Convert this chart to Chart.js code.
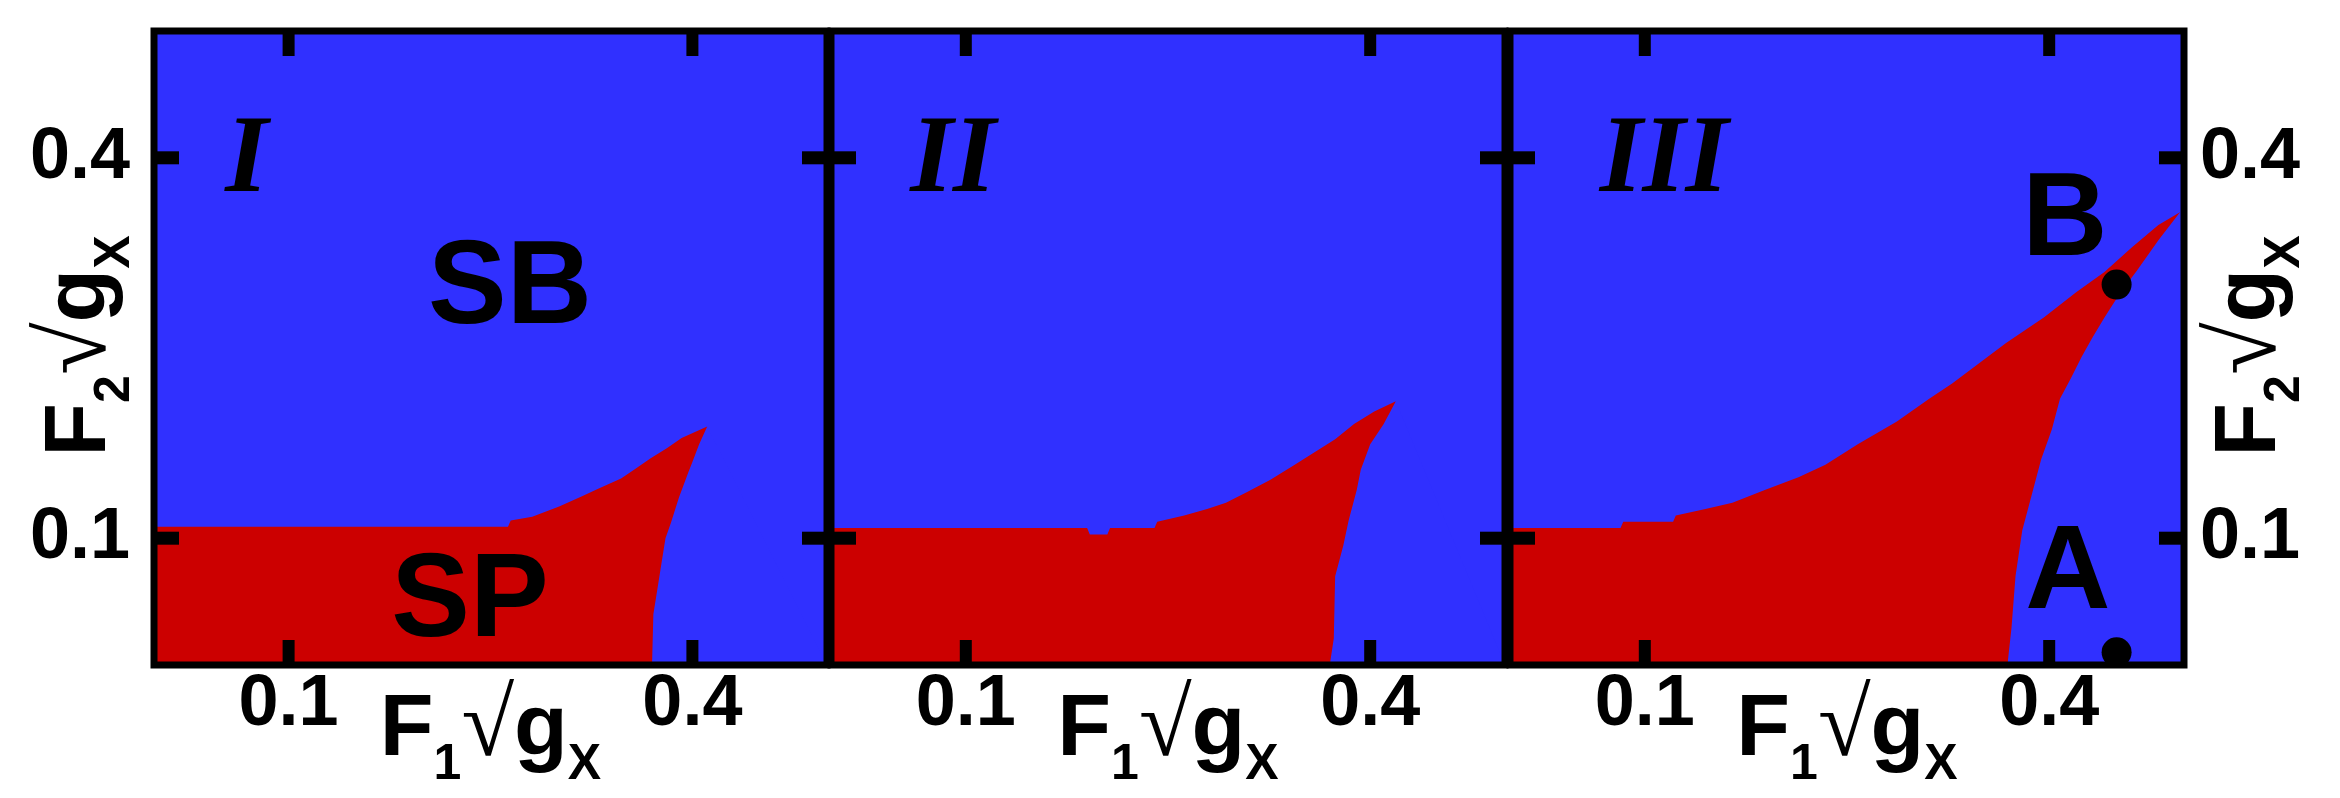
<!DOCTYPE html>
<html lang="en">
<head>
<meta charset="UTF-8">
<title>SB / SP phase diagram</title>
<script src="https://cdn.jsdelivr.net/npm/chart.js"></script>
<style>
  body { margin: 0; background: #fff; }
  #wrap { position: relative; width: 2340px; height: 798px; overflow: hidden; }
  canvas { position: absolute; top: 0; }
</style>
</head>
<body>
<div id="wrap">
  <canvas id="p1" width="840" height="798" style="left:0px"></canvas>
  <canvas id="p2" width="700" height="798" style="left:820px"></canvas>
  <canvas id="p3" width="845" height="798" style="left:1495px"></canvas>
</div>
<script>
// tick values shared by all three panels
const xTicks = [0.1, 0.4];
const yTicks = [0.1, 0.4];

// panel I : upper edge of the SP (red) region, F2 against F1
const topX1 = [0, 0.263, 0.265, 0.281, 0.301, 0.318, 0.330, 0.347, 0.358, 0.369, 0.381, 0.392, 0.411];
const topY1 = [0.109, 0.109, 0.114, 0.117, 0.125, 0.133, 0.139, 0.147, 0.155, 0.163, 0.171, 0.179, 0.188];
// panel I : right-hand edge, SB again below/right of it (ends in the plot's corner)
const sideX1 = [0.370, 0.371, 0.374, 0.377, 0.380, 0.384, 0.390, 0.397, 0.400, 0.405, 0.411, 0.5];
const sideY1 = [0, 0.040, 0.060, 0.080, 0.100, 0.112, 0.132, 0.152, 0.160, 0.174, 0.188, 0];

// panel II
const topX2 = [0, 0.190, 0.192, 0.205, 0.207, 0.240, 0.242, 0.262, 0.279, 0.293, 0.308, 0.326, 0.344, 0.359, 0.374, 0.388, 0.403, 0.419];
const topY2 = [0.108, 0.108, 0.103, 0.103, 0.108, 0.108, 0.113, 0.118, 0.123, 0.128, 0.136, 0.146, 0.158, 0.168, 0.178, 0.190, 0.200, 0.208];
const sideX2 = [0.370, 0.373, 0.374, 0.380, 0.384, 0.390, 0.393, 0.400, 0.410, 0.419, 0.5];
const sideY2 = [0, 0.021, 0.070, 0.094, 0.114, 0.138, 0.154, 0.174, 0.190, 0.208, 0];

// panel III
const topX3 = [0, 0.082, 0.084, 0.121, 0.123, 0.145, 0.165, 0.189, 0.214, 0.234, 0.258, 0.287, 0.311, 0.328, 0.348, 0.368, 0.396, 0.420, 0.441, 0.461, 0.481, 0.497];
const topY3 = [0.108, 0.108, 0.113, 0.113, 0.118, 0.123, 0.128, 0.138, 0.148, 0.158, 0.174, 0.192, 0.210, 0.222, 0.238, 0.254, 0.274, 0.294, 0.310, 0.329, 0.347, 0.357];
const sideX3 = [0.369, 0.372, 0.375, 0.380, 0.388, 0.394, 0.402, 0.408, 0.416, 0.424, 0.432, 0.441, 0.453, 0.465, 0.481, 0.497, 0.5];
const sideY3 = [0, 0.029, 0.070, 0.106, 0.138, 0.162, 0.186, 0.210, 0.226, 0.243, 0.258, 0.274, 0.294, 0.311, 0.335, 0.357, 0];

// marked points A and B in panel III
const dotX = [0.45, 0.45];
const dotY = [0.01, 0.30];

const BLUE = '#3030ff';
const RED = '#cc0000';
const SANS = '"Liberation Sans", Arial, sans-serif';
const SERIF = '"Liberation Serif", "Times New Roman", serif';
const tickFont = { family: SANS, weight: 'bold', size: 72, lineHeight: 1 };

function pts(xs, ys) {
  return xs.map((x, i) => ({ x: x, y: ys[i] }));
}

// F_n sqrt(g_X), drawn centred on the current origin
function mathLabel(ctx, n) {
  const parts = [
    ['F', 'bold 88px ' + SANS, 0],
    [n, 'bold 50px ' + SANS, 24],
    ['\u221A', '96px ' + SERIF, 0],
    ['g', 'bold 88px ' + SANS, 0],
    ['X', 'bold 50px ' + SANS, 24]
  ];
  let w = 0;
  parts.forEach(p => { ctx.font = p[1]; p[3] = ctx.measureText(p[0]).width; w += p[3]; });
  let x = -w / 2;
  ctx.textAlign = 'left';
  ctx.textBaseline = 'alphabetic';
  parts.forEach(p => { ctx.font = p[1]; ctx.fillText(p[0], x, p[2]); x += p[3]; });
}

function decor(cfg) {
  return {
    id: 'decor',
    beforeDatasetsDraw(chart) {
      const { ctx, chartArea: a } = chart;
      ctx.save();
      ctx.fillStyle = BLUE;
      ctx.fillRect(a.left, a.top, a.right - a.left, a.bottom - a.top);
      ctx.restore();
    },
    afterDatasetsDraw(chart) {
      const { ctx, chartArea: a, scales: { x, y } } = chart;
      ctx.save();
      ctx.fillStyle = '#000';
      // region names
      cfg.notes.forEach(n => {
        ctx.font = n.font;
        ctx.textAlign = n.align;
        ctx.textBaseline = 'alphabetic';
        ctx.fillText(n.t, x.getPixelForValue(n.x), y.getPixelForValue(n.y));
      });
      // inward ticks on all four sides
      xTicks.forEach(v => {
        const px = x.getPixelForValue(v);
        ctx.fillRect(px - 6, a.bottom - 25, 12, 25);
        ctx.fillRect(px - 6, a.top, 12, 25);
      });
      yTicks.forEach(v => {
        const py = y.getPixelForValue(v);
        ctx.fillRect(a.left, py - 6.5, 25, 13);
        ctx.fillRect(a.right - 25, py - 6.5, 25, 13);
      });
      ctx.lineWidth = 7;
      ctx.strokeStyle = '#000';
      ctx.strokeRect(a.left, a.top, a.right - a.left, a.bottom - a.top);
      ctx.restore();
    },
    afterDraw(chart) {
      const ctx = chart.ctx;
      ctx.save();
      ctx.fillStyle = '#000';
      ctx.translate((chart.chartArea.left + chart.chartArea.right) / 2, 755);
      mathLabel(ctx, '1');
      ctx.restore();
      if (cfg.yTitleX != null) {
        ctx.save();
        ctx.fillStyle = '#000';
        ctx.translate(cfg.yTitleX, 346);
        ctx.rotate(-Math.PI / 2);
        mathLabel(ctx, '2');
        ctx.restore();
      }
    }
  };
}

function panel(id, cfg) {
  const datasets = [
    {
      data: pts(cfg.sideX, cfg.sideY), fill: 'origin', backgroundColor: BLUE,
      borderColor: 'rgba(0,0,0,0)', borderWidth: 0, pointRadius: 0, tension: 0, order: 1
    },
    {
      data: pts(cfg.topX, cfg.topY), fill: 'origin', backgroundColor: RED,
      borderColor: 'rgba(0,0,0,0)', borderWidth: 0, pointRadius: 0, tension: 0, order: 2
    }
  ];
  if (cfg.dots) {
    datasets.unshift({
      data: pts(dotX, dotY), showLine: false, pointRadius: 15, pointBorderWidth: 0,
      pointBackgroundColor: '#000', clip: false, order: 0
    });
  }
  new Chart(document.getElementById(id), {
    type: 'line',
    data: { datasets: datasets },
    options: {
      responsive: false,
      animation: false,
      events: [],
      layout: { padding: cfg.pad },
      plugins: { legend: { display: false }, tooltip: { enabled: false } },
      scales: {
        x: {
          type: 'linear', min: 0, max: 0.5, position: 'bottom',
          grid: { display: false, drawTicks: false }, border: { display: false },
          afterBuildTicks: s => { s.ticks = xTicks.map(v => ({ value: v })); },
          afterFit: s => { s.height = 133; s.paddingLeft = 0; s.paddingRight = 0; },
          ticks: { font: tickFont, color: '#000', padding: 4, maxRotation: 0, autoSkip: false, callback: v => v.toFixed(1) }
        },
        y: {
          type: 'linear', min: 0, max: 0.5, position: cfg.yPos || 'left', display: cfg.yShow,
          grid: { display: false, drawTicks: false }, border: { display: false },
          afterBuildTicks: s => { s.ticks = yTicks.map(v => ({ value: v })); },
          afterFit: s => {
            if (cfg.yWidth) s.width = cfg.yWidth;
            s.paddingTop = 0;
            s.paddingBottom = 0;
          },
          ticks: { font: tickFont, color: '#000', padding: cfg.yPad || 0, autoSkip: false, callback: v => v.toFixed(1) }
        }
      }
    },
    plugins: [decor(cfg)]
  });
}

const roman = 'italic bold 110px ' + SERIF;
const big = 'bold 118px ' + SANS;

panel('p1', {
  topX: topX1, topY: topY1, sideX: sideX1, sideY: sideY1,
  pad: { left: 0, right: 13, top: 31, bottom: 0 },
  yShow: true, yPos: 'left', yWidth: 154, yPad: 24, yTitleX: 105,
  notes: [
    { t: 'I', x: 0.053, y: 0.374, font: roman, align: 'left' },
    { t: 'SB', x: 0.2645, y: 0.2695, font: big, align: 'center' },
    { t: 'SP', x: 0.2347, y: 0.023, font: big, align: 'center' }
  ]
});

panel('p2', {
  topX: topX2, topY: topY2, sideX: sideX2, sideY: sideY2,
  pad: { left: 11, right: 15, top: 31, bottom: 0 },
  yShow: false,
  notes: [
    { t: 'II', x: 0.0587, y: 0.374, font: roman, align: 'left' }
  ]
});

panel('p3', {
  topX: topX3, topY: topY3, sideX: sideX3, sideY: sideY3, dots: true,
  pad: { left: 15, right: 0, top: 31, bottom: 0 },
  yShow: true, yPos: 'right', yWidth: 156, yPad: 16, yTitleX: 780,
  notes: [
    { t: 'III', x: 0.0666, y: 0.374, font: roman, align: 'left' },
    { t: 'B', x: 0.4117, y: 0.3235, font: big, align: 'center' },
    { t: 'A', x: 0.4138, y: 0.045, font: big, align: 'center' }
  ]
});
</script>
</body>
</html>
